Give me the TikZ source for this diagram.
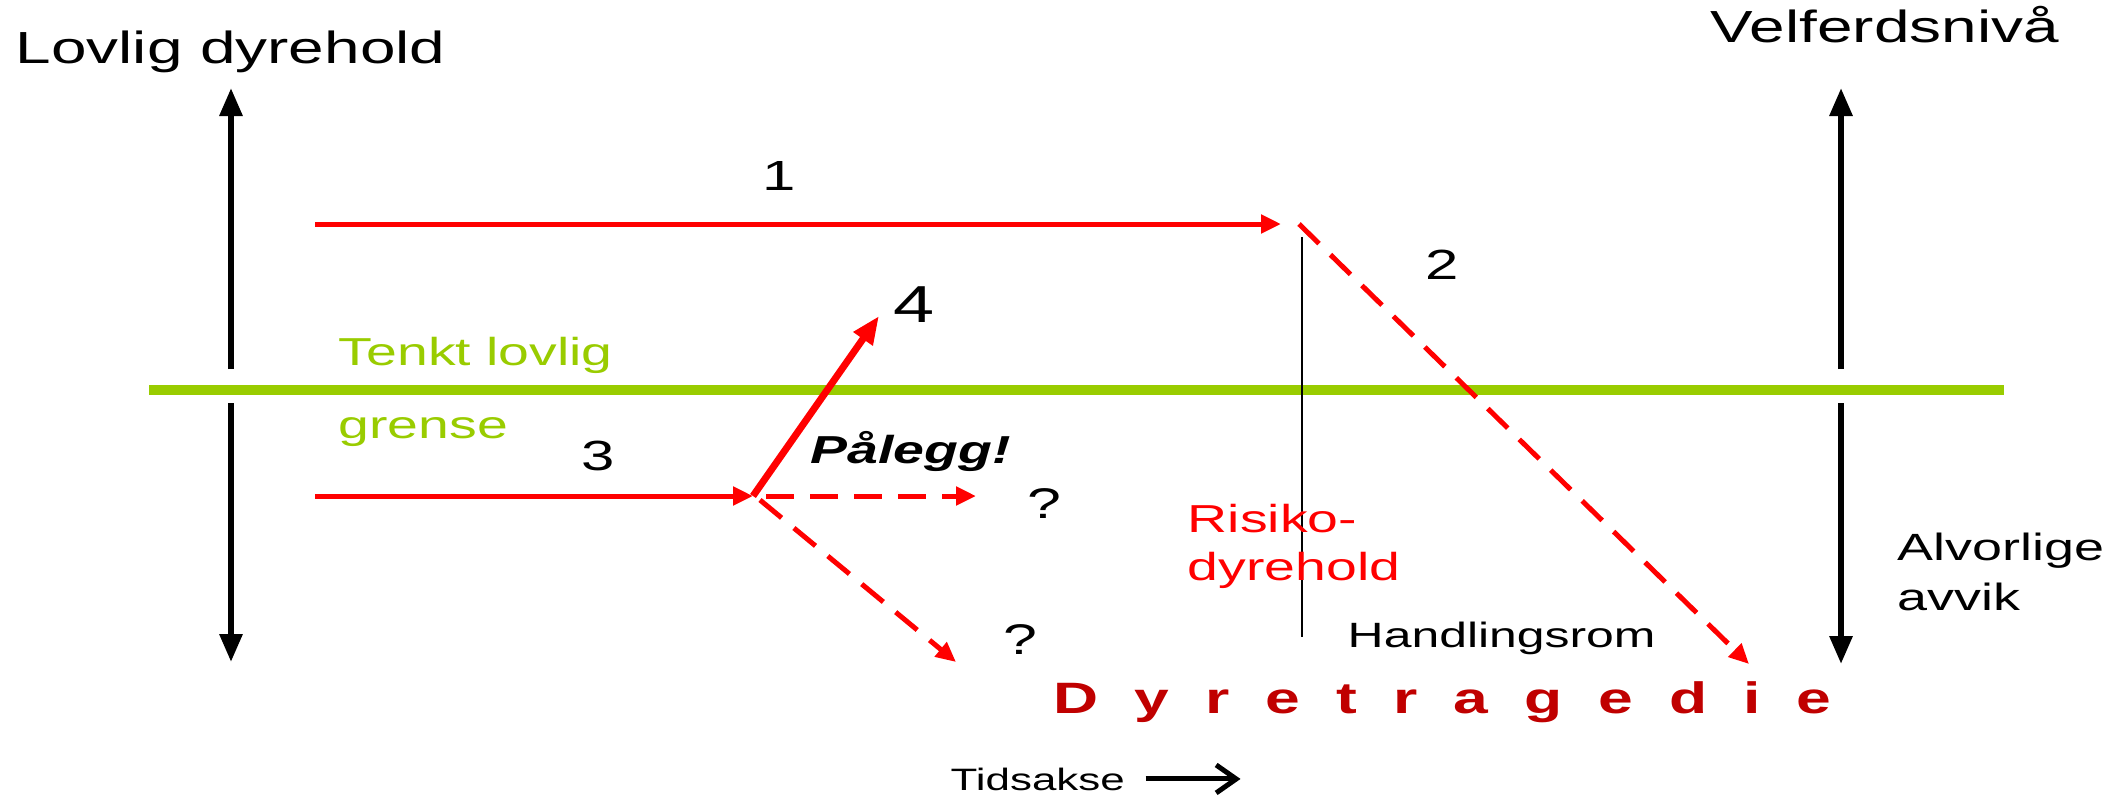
\documentclass[tikz,border=0pt]{standalone}
\usepackage{fontspec}
\setmainfont{Liberation Sans}[FakeStretch=1.42]
\usetikzlibrary{arrows.meta}
\definecolor{limegreen}{RGB}{153,204,0}
\definecolor{darkred}{RGB}{192,0,0}

\begin{document}
\begin{tikzpicture}[x=0.1mm,y=-0.1mm,
  lbl/.style={inner sep=0pt,anchor=base west},
  axis/.style={line width=0.6mm,-{Triangle[length=2.8mm,width=2.2mm]}},
  redline/.style={red,line width=0.5mm,-{Triangle[length=2mm,width=1.8mm]}},
  reddash/.style={redline,dash pattern=on 2.8mm off 1.6mm}]

\useasboundingbox (0,0) rectangle (2126,796);

\coordinate (G_1) at (149,390);
\coordinate (G_2) at (2004,390);
\coordinate (L_1) at (231,369);
\coordinate (L_2) at (231,88);
\coordinate (L_3) at (231,403);
\coordinate (L_4) at (231,662);
\coordinate (R_1) at (1841,369);
\coordinate (R_2) at (1841,88);
\coordinate (R_3) at (1841,403);
\coordinate (R_4) at (1841,664);
\coordinate (A_1) at (315,224);
\coordinate (A_2) at (1281,224);
\coordinate (A_3) at (1299,224);
\coordinate (A_4) at (1749,664);
\coordinate (B_1) at (315,496);
\coordinate (B_2) at (753,496);
\coordinate (B_3) at (879,316);
\coordinate (B_4) at (766,496);
\coordinate (B_5) at (976,496);
\coordinate (B_6) at (760,500);
\coordinate (B_7) at (956,662);
\coordinate (T_1) at (1302,237);
\coordinate (T_2) at (1302,637);

% tenkt grense
\draw[limegreen,line width=1mm] (G_1) -- (G_2);

% akser
\draw[axis] (L_1) -- (L_2);
\draw[axis] (L_3) -- (L_4);
\draw[axis] (R_1) -- (R_2);
\draw[axis] (R_3) -- (R_4);

\draw[line width=0.15mm] (T_1) -- (T_2);

\draw[redline] (A_1) -- (A_2);
\draw[reddash] (A_3) -- (A_4);
\draw[redline] (B_1) -- (B_2);
\draw[red,line width=0.7mm,-{Triangle[length=2.8mm,width=2.2mm]}] (B_2) -- (B_3);
\draw[reddash] (B_4) -- (B_5);
\draw[reddash] (B_6) -- (B_7);

\node[lbl,font=\fontsize{12.8}{15}\selectfont] (lovlig) at (15,63) {Lovlig dyrehold};
\node[lbl,font=\fontsize{12.8}{15}\selectfont] (velferd) at (1710,43) {Velferdsnivå};
\node[lbl,font=\fontsize{12}{14}\selectfont] (n1) at (762,190) {1};
\node[lbl,font=\fontsize{12}{14}\selectfont] (n2) at (1425,279) {2};
\node[lbl,font=\fontsize{12}{14}\selectfont] (n3) at (581,470) {3};
\node[lbl,font=\fontsize{14.8}{17}\selectfont] (n4) at (893,322) {4};
\node[lbl,text=limegreen,font=\fontsize{11.1}{13}\selectfont] (tenkt) at (338,365) {Tenkt lovlig};
\node[lbl,text=limegreen,font=\fontsize{11.1}{13}\selectfont] (grense) at (338,438) {grense};
\node[lbl,font=\fontsize{11.1}{13}\selectfont\bfseries\itshape] (palegg) at (810,463) {Pålegg!};
\node[lbl,font=\fontsize{12.2}{14}\selectfont] (q1) at (1027,518) {?};
\node[lbl,font=\fontsize{12.2}{14}\selectfont] (q2) at (1003,654) {?};
\node[lbl,text=red,font=\fontsize{11.1}{13}\selectfont] (risiko) at (1187,532) {Risiko-};
\node[lbl,text=red,font=\fontsize{11.1}{13}\selectfont] (risiko2) at (1187,580) {dyrehold};
\node[lbl,font=\fontsize{10}{12}\selectfont] (handling) at (1347,647) {Handlingsrom};
\node[lbl,font=\fontsize{10.8}{13}\selectfont] (alvorlig) at (1897,560) {Alvorlige};
\node[lbl,font=\fontsize{10.8}{13}\selectfont] (avvik) at (1897,610) {avvik};
\node[lbl,text=darkred,font=\fontsize{12.5}{15}\selectfont\bfseries\addfontfeature{LetterSpace=82}] (tragedie) at (1053,713) {Dyretragedie};
\node[lbl,font=\fontsize{8.8}{11}\selectfont] (tidsakse) at (950,790) {Tidsakse};

\draw[line width=0.5mm,-{Straight Barb[length=2mm,width=2.8mm]}] ([xshift=2mm]tidsakse.east) -- ([xshift=11.5mm]tidsakse.east);

\end{tikzpicture}
\end{document}
